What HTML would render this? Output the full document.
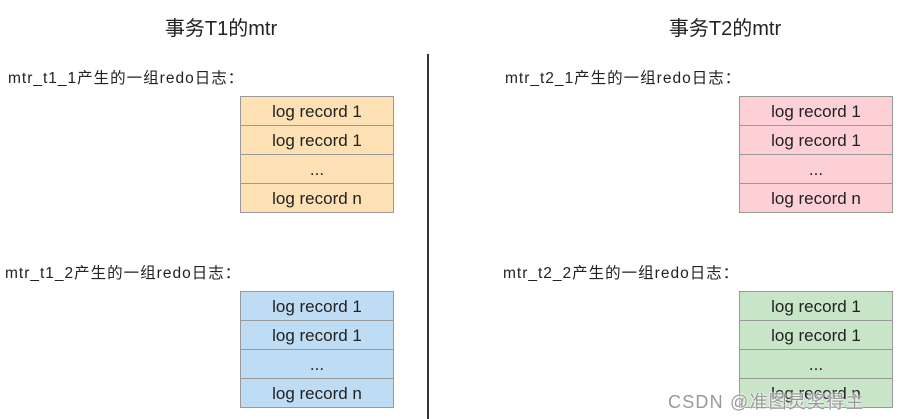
<!DOCTYPE html>
<html><head><meta charset="utf-8">
<style>
body{margin:0;width:900px;height:419px;background:#fff;position:relative;overflow:hidden;font-family:"Liberation Sans","Noto Sans CJK SC",sans-serif;color:#222}
.t{position:absolute;font-size:20px;top:12px;width:300px;text-align:center}
.l{position:absolute;font-size:15.5px;letter-spacing:1px}
.box{position:absolute;width:154px;border:1px solid #999;box-sizing:border-box}
.box div{height:29px;line-height:29px;text-align:center;font-size:17px;border-top:1px solid #999;box-sizing:border-box}
.box div:first-child{border-top:none;height:28px}
.div{position:absolute;left:427px;top:54px;width:1.5px;height:365px;background:#333}
.wm{position:absolute;left:668px;top:388px;font-size:18px;letter-spacing:1.2px;color:#999;text-shadow:0 0 2px #fff,0 0 2px #fff}
</style></head><body>
<div class="t" style="left:71px">事务T1的mtr</div>
<div class="t" style="left:575px">事务T2的mtr</div>
<div class="div"></div>
<div class="l" style="left:8px;top:66px">mtr_t1_1产生的一组redo日志：</div>
<div class="l" style="left:505px;top:66px">mtr_t2_1产生的一组redo日志：</div>
<div class="l" style="left:5px;top:261px">mtr_t1_2产生的一组redo日志：</div>
<div class="l" style="left:503px;top:261px">mtr_t2_2产生的一组redo日志：</div>
<div class="box" style="left:240px;top:96px;background:#fde0b3"><div>log record 1</div><div>log record 1</div><div>...</div><div>log record n</div></div>
<div class="box" style="left:240px;top:291px;background:#bfdcf5"><div>log record 1</div><div>log record 1</div><div>...</div><div>log record n</div></div>
<div class="box" style="left:739px;top:96px;background:#fdd0d6"><div>log record 1</div><div>log record 1</div><div>...</div><div>log record n</div></div>
<div class="box" style="left:739px;top:291px;background:#c8e5c8"><div>log record 1</div><div>log record 1</div><div>...</div><div>log record n</div></div>
<div class="wm">CSDN @准图灵奖得主</div>
</body></html>
